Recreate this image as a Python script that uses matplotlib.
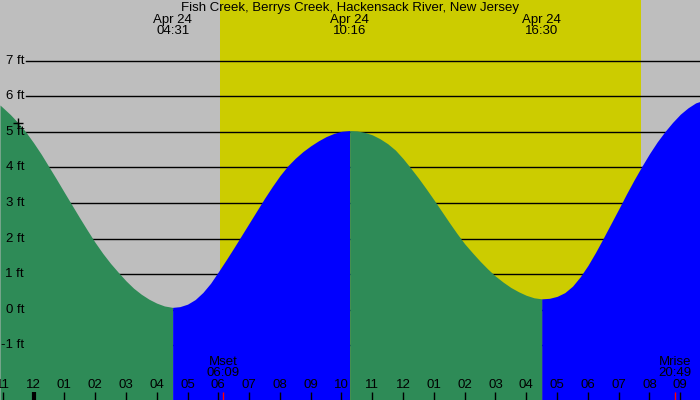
import matplotlib
matplotlib.use("Agg")
import matplotlib.pyplot as plt
import matplotlib.transforms as mtransforms

plt.rcParams['font.family'] = ['Liberation Sans', 'DejaVu Sans']

title = "Fish Creek, Berrys Creek, Hackensack River, New Jersey"

# tide curve (hours after midnight Apr 24, feet)
tide_hours = [-1.088, -1.0, -0.75, -0.5, -0.25, 0.0, 0.25, 0.5, 0.75, 1.0, 1.25, 1.5, 1.75, 2.0,
              2.25, 2.5, 2.75, 3.0, 3.25, 3.5, 3.75, 4.0, 4.25, 4.517,
              4.75, 5.0, 5.25, 5.5, 5.75, 6.0, 6.25, 6.5, 6.75, 7.0, 7.25, 7.5, 7.75, 8.0,
              8.25, 8.5, 8.75, 9.0, 9.25, 9.5, 9.75, 10.0, 10.267,
              10.5, 10.75, 11.0, 11.25, 11.5, 11.75, 12.0, 12.25, 12.5, 12.75, 13.0, 13.25,
              13.5, 13.75, 14.0, 14.25, 14.5, 14.75, 15.0, 15.25, 15.5, 15.75, 16.0, 16.25, 16.5,
              16.75, 17.0, 17.25, 17.5, 17.75, 18.0, 18.25, 18.5, 18.75, 19.0, 19.25, 19.5,
              19.75, 20.0, 20.25, 20.5, 20.75, 21.0, 21.25, 21.5, 21.64]
tide_ft = [5.76, 5.69, 5.49, 5.26, 5.00, 4.70, 4.375, 4.02, 3.665, 3.30, 2.94, 2.58, 2.23, 1.89,
           1.58, 1.30, 1.05, 0.81, 0.60, 0.43, 0.29, 0.18, 0.10, 0.06,
           0.08, 0.15, 0.28, 0.48, 0.74, 1.06, 1.39, 1.73, 2.08, 2.43, 2.78, 3.13, 3.46, 3.77,
           4.04, 4.26, 4.45, 4.61, 4.75, 4.87, 4.96, 5.02, 5.04,
           5.03, 4.99, 4.92, 4.81, 4.67, 4.49, 4.25, 3.98, 3.70, 3.40, 3.09, 2.77,
           2.45, 2.14, 1.85, 1.60, 1.36, 1.14, 0.94, 0.77, 0.62, 0.50, 0.40, 0.33, 0.30,
           0.315, 0.37, 0.475, 0.656, 0.92, 1.24, 1.61, 2.01, 2.42, 2.83, 3.25, 3.65,
           4.03, 4.39, 4.72, 5.01, 5.27, 5.50, 5.68, 5.82, 5.86]

# tide extremes (time labels at top)
extreme_hours = [4.517, 10.267, 16.5]
extreme_labels = ["04:31", "10:16", "16:30"]
extreme_date = "Apr 24"

# sun
sunrise_hour = 6.055
sunset_hour = 19.74

# moon
moon_hours = [6.15, 20.817]
moon_names = ["Mset", "Mrise"]
moon_labels = ["06:09", "20:49"]

# hour ticks
tick_hours = list(range(-1, 22))
tick_labels = ["11", "12", "01", "02", "03", "04", "05", "06", "07", "08", "09", "10",
               "11", "12", "01", "02", "03", "04", "05", "06", "07", "08", "09"]

grid_ft = [-1, 0, 1, 2, 3, 4, 5, 6, 7]
grid_labels = ["-1 ft", "0 ft", "1 ft", "2 ft", "3 ft", "4 ft", "5 ft", "6 ft", "7 ft"]

now_hour, now_ft = -0.49, 5.25

GREY = "#bebebe"
YELLOW = "#cccc00"
GREEN = "#2e8b57"
BLUE = "#0000ff"
FS = 9.5

fig = plt.figure(figsize=(7, 4), dpi=100)
ax = fig.add_axes([0, 0, 1, 1])
ax.set_facecolor(GREY)
xmin, xmax = -1.088, 21.64
ymin, ymax = -2.549, 8.718
ax.set_xlim(xmin, xmax)
ax.set_ylim(ymin, ymax)
for s in ax.spines.values():
    s.set_visible(False)
ax.set_xticks([])
ax.set_yticks([])

ax.axvspan(sunrise_hour, sunset_hour, color=YELLOW, zorder=0.5, lw=0)

# grid lines (behind the water)
for g in grid_ft:
    ax.axhline(g, xmin=26 / 700, xmax=1, color="black", lw=1.0, zorder=1)

# fills: falling green, rising blue
bounds = [xmin] + extreme_hours + [xmax]
colors = [GREEN, BLUE, GREEN, BLUE]
for i in range(len(bounds) - 1):
    lo, hi = bounds[i], bounds[i + 1]
    xs = [t for t in tide_hours if lo - 1e-9 <= t <= hi + 1e-9]
    ys = [h for t, h in zip(tide_hours, tide_ft) if lo - 1e-9 <= t <= hi + 1e-9]
    ax.fill_between(xs, ys, ymin, color=colors[i], lw=0, zorder=2)

# y labels
ytrans = mtransforms.blended_transform_factory(fig.transFigure, ax.transData)
for g, lab in zip(grid_ft, grid_labels):
    ax.text(24 / 700, g, lab, transform=ytrans, ha="right", va="center",
            fontsize=FS, color="black", zorder=5)

xtrans = mtransforms.blended_transform_factory(ax.transData, ax.transAxes)
# hour ticks
for h, lab in zip(tick_hours, tick_labels):
    ax.plot([h, h], [0, 8 / 400], transform=xtrans, color="black",
            lw=3 if h == 0 else 1, solid_capstyle="butt", zorder=5)
    ax.text(h, 1 - 385.5 / 400, lab, transform=xtrans, ha="center", va="center",
            fontsize=FS, color="black", zorder=5)

# moon
for h, nm, lab in zip(moon_hours, moon_names, moon_labels):
    ax.plot([h, h], [0, 8 / 400], transform=xtrans, color="red", lw=1,
            solid_capstyle="butt", zorder=6)
    ax.text(h, 1 - 361.7 / 400, nm, transform=xtrans, ha="center", va="center",
            fontsize=FS, color="black", zorder=5)
    ax.text(h, 1 - 373.3 / 400, lab, transform=xtrans, ha="center", va="center",
            fontsize=FS, color="black", zorder=5)

# extremes labels
for h, lab in zip(extreme_hours, extreme_labels):
    ax.text(h, 1 - 19.5 / 400, extreme_date, transform=xtrans, ha="center", va="center",
            fontsize=FS, color="black", zorder=5)
    ax.text(h, 1 - 31.5 / 400, lab, transform=xtrans, ha="center", va="center",
            fontsize=FS, color="black", zorder=5)

fig.text(0.5, 1 - 7.5 / 400, title, ha="center", va="center", fontsize=FS, color="black")

ax.plot([now_hour], [now_ft], marker="+", ms=7, mew=1, color="black", zorder=6)

fig.savefig("out.png", dpi=100)
